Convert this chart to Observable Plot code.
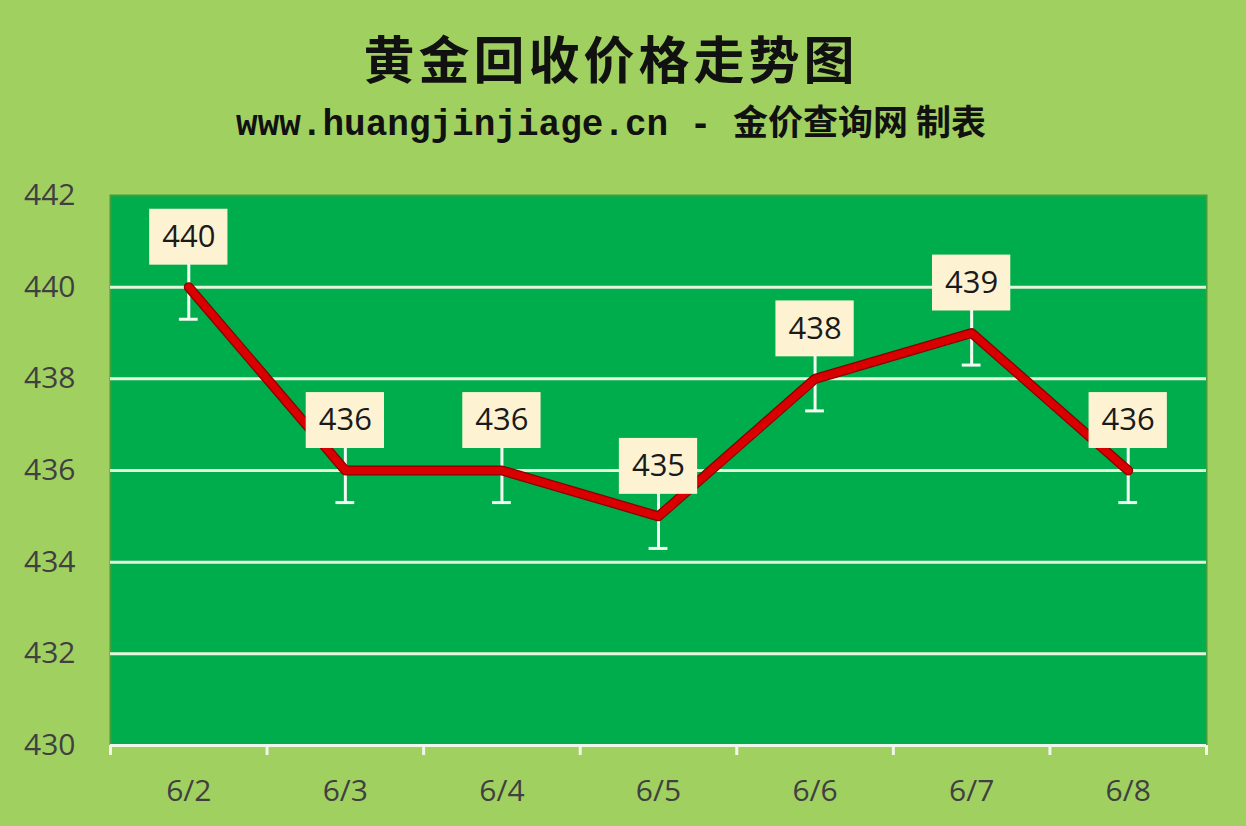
<!DOCTYPE html>
<html>
<head>
<meta charset="utf-8">
<script src="https://cdn.jsdelivr.net/npm/d3@7"></script>
<script src="https://cdn.jsdelivr.net/npm/@observablehq/plot@0.6"></script>
<style>
  html, body { margin: 0; padding: 0; background: #a0d060; width: 1246px; height: 826px; overflow: hidden; }
  #wrap { position: relative; width: 1246px; height: 826px; }
  #title { position: absolute; left: 0; top: 24px; width: 1222px; text-align: center;
    font-family: "Noto Sans CJK SC", sans-serif; font-weight: 700; font-size: 51px; line-height: 66px; color: #111; letter-spacing: 4px; }
  #subtitle { position: absolute; left: 0; top: 96px; width: 1222px; text-align: center;
    font-family: "Liberation Mono", "Noto Sans CJK SC", monospace; font-weight: 700; font-size: 36px; line-height: 48px; color: #111; white-space: pre; }
  #subtitle .cjk { font-family: "Noto Sans CJK SC", sans-serif; font-weight: 700; font-size: 35px; }
  #chart { position: absolute; left: 0; top: 160px; }
</style>
</head>
<body>
<div id="wrap">
  <div id="title">黄金回收价格走势图</div>
  <div id="subtitle">www.huangjinjiage.cn - <span class="cjk">金价查询网 制表</span></div>
  <div id="chart"></div>
</div>
<script>
const dates = ["6/2", "6/3", "6/4", "6/5", "6/6", "6/7", "6/8"];
const prices = [440, 436, 436, 435, 438, 439, 436];
const errorAmount = 0.7;
const yTicks = [430, 432, 434, 436, 438, 440, 442];
const gridValues = [432, 434, 436, 438, 440];

const data = dates.map((d, i) => ({date: d, pos: i + 0.5, price: prices[i]}));
const centers = dates.map((d, i) => i + 0.5);
const bounds = d3.range(dates.length + 1);

const chart = Plot.plot({
  width: 1246,
  height: 666,
  marginTop: 35,
  marginBottom: 81,
  marginLeft: 110,
  marginRight: 40,
  style: {background: "transparent", overflow: "visible"},
  x: {type: "linear", domain: [0, dates.length]},
  y: {domain: [430, 442]},
  marks: [
    Plot.frame({fill: "#00ad4c", stroke: "#3f9f3a", strokeWidth: 2}),
    Plot.ruleY(gridValues, {stroke: "#e6f4dc", strokeWidth: 3}),
    Plot.ruleY([430], {stroke: "#f0f7ea", strokeWidth: 3}),
    Plot.axisY({ticks: yTicks, tickSize: 0, tickPadding: 35, fontSize: 30, fontFamily: "Open Sans, sans-serif", color: "#404040", label: null}),
    Plot.axisX({ticks: bounds, tickSize: 10, tickFormat: () => "", stroke: "#f0f7ea", strokeWidth: 3, label: null}),
    Plot.axisX({ticks: centers, tickSize: 0, tickPadding: 34, tickFormat: (v) => dates[Math.round(v - 0.5)], fontSize: 30, fontFamily: "Open Sans, sans-serif", color: "#404040", label: null}),
    // error bars
    Plot.ruleX(data, {x: "pos", y1: d => d.price - errorAmount, y2: d => d.price + errorAmount, stroke: "#f4fbf0", strokeWidth: 3}),
    Plot.ruleY(data, {y: d => d.price - errorAmount, x1: d => d.pos - 0.06, x2: d => d.pos + 0.06, stroke: "#f4fbf0", strokeWidth: 3}),
    // line
    Plot.line(data, {x: "pos", y: "price", stroke: "#8a0000", strokeWidth: 10, strokeLinejoin: "round"}),
    Plot.line(data, {x: "pos", y: "price", stroke: "#d80000", strokeWidth: 7.5, strokeLinejoin: "round"}),
    // label boxes
    Plot.rect(data, {x1: d => d.pos - 0.25, x2: d => d.pos + 0.25, y1: d => d.price + 0.48, y2: d => d.price + 1.7, fill: "#fdf3d3"}),
    Plot.text(data, {x: "pos", y: d => d.price + 1.09, text: d => String(d.price), fontSize: 31, fontFamily: "Open Sans, sans-serif", fill: "#1a1a1a"})
  ]
});
document.getElementById("chart").appendChild(chart);
</script>
</body>
</html>
